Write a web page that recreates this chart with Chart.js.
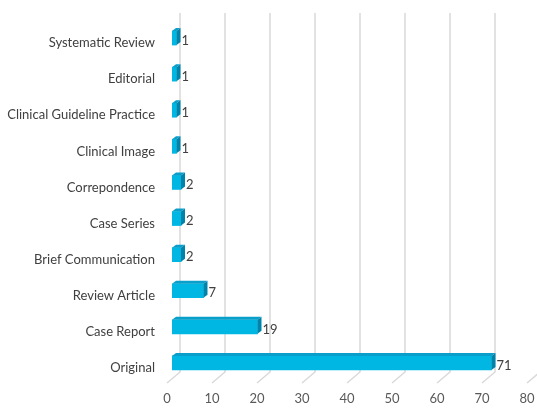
<!DOCTYPE html>
<html><head><meta charset="utf-8">
<script src="https://cdn.jsdelivr.net/npm/chart.js@4/dist/chart.umd.min.js"></script>
<style>html,body{margin:0;padding:0;background:#fff;}#wrap{width:537px;height:408px;}</style>
</head><body><div id="wrap"><canvas id="c"></canvas></div>
<script>
const categories = ["Systematic Review","Editorial","Clinical Guideline Practice","Clinical Image","Correpondence","Case Series","Brief Communication","Review Article","Case Report","Original"];
const values = [1,1,1,1,2,2,2,7,19,71];
const xTicks = [0,10,20,30,40,50,60,70,80];

const FONT = "Lato, 'Open Sans', sans-serif";
const DX = 4, DY = 3;

const threeD = {
  id: 'threeD',
  beforeDatasetsDraw(chart) {
    const ctx = chart.ctx, xs = chart.scales.x, area = chart.chartArea;
    ctx.save();
    ctx.strokeStyle = '#D9D9D9';
    ctx.lineWidth = 1.5;
    xTicks.forEach(v => {
      const gx = xs.getPixelForValue(v) + 8;
      ctx.beginPath();
      ctx.moveTo(gx, 13);
      ctx.lineTo(gx, area.bottom - 9);
      ctx.lineTo(gx - 13, area.bottom + 2);
      ctx.stroke();
    });
    ctx.restore();
  },
  afterDatasetsDraw(chart) {
    const ctx = chart.ctx;
    const meta = chart.getDatasetMeta(0);
    ctx.save();
    meta.data.forEach((bar, i) => {
      const p = bar.getProps(['x','y','base','height'], true);
      const x0 = p.base, x1 = p.x, top = p.y - p.height/2, bot = p.y + p.height/2;
      ctx.fillStyle = '#0A9FCB';
      ctx.beginPath();
      ctx.moveTo(x0, top); ctx.lineTo(x0 + DX, top - DY); ctx.lineTo(x1 + DX, top - DY); ctx.lineTo(x1, top); ctx.closePath();
      ctx.fill();
      ctx.fillStyle = '#0083AB';
      ctx.beginPath();
      ctx.moveTo(x1, top); ctx.lineTo(x1 + DX, top - DY); ctx.lineTo(x1 + DX, bot - DY); ctx.lineTo(x1, bot); ctx.closePath();
      ctx.fill();
      ctx.fillStyle = '#404040';
      ctx.font = '13px ' + FONT;
      ctx.textAlign = 'left';
      ctx.textBaseline = 'middle';
      ctx.fillText(String(values[i]), x1 + DX + 1, p.y + 2.5);
    });
    ctx.restore();
  }
};

new Chart(document.getElementById('c'), {
  type: 'bar',
  data: {
    labels: categories,
    datasets: [{
      data: values,
      backgroundColor: '#00B7E3',
      borderWidth: 0,
      barThickness: 14
    }]
  },
  options: {
    indexAxis: 'y',
    responsive: true,
    maintainAspectRatio: false,
    animation: false,
    layout: { padding: { top: 20, right: 5, left: 0, bottom: 0 } },
    plugins: { legend: { display: false }, tooltip: { enabled: false } },
    scales: {
      x: {
        min: 0, max: 80,
        afterBuildTicks: s => { s.ticks = xTicks.map(v => ({ value: v })); },
        grid: { display: false, drawTicks: false },
        border: { display: false },
        ticks: { color: '#595959', font: { family: FONT, size: 13 }, padding: 10, labelOffset: -5 },
        afterFit: s => { s.height = 27; s.paddingLeft = 0; s.paddingRight = 0; }
      },
      y: {
        grid: { display: false, drawTicks: false },
        border: { display: false },
        ticks: { color: '#404040', font: { family: FONT, size: 13 }, padding: 17, labelOffset: 5 },
        afterFit: s => { s.width = 172; s.paddingTop = 0; s.paddingBottom = 0; }
      }
    }
  },
  plugins: [threeD]
});
</script>
</body></html>
